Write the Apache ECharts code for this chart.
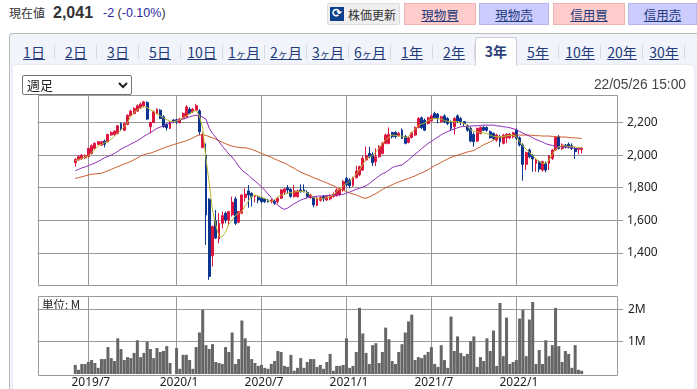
<!DOCTYPE html>
<html>
<head>
<meta charset="utf-8">
<script src="https://cdn.jsdelivr.net/npm/echarts@6/dist/echarts.min.js"></script>
<style>
html, body { margin:0; padding:0; width:697px; height:389px; overflow:hidden; background:#fff; color:#333;
  font-family:"Liberation Sans","Noto Sans CJK JP",sans-serif; }
.abs { position:absolute; white-space:nowrap; }
#panel { position:absolute; left:9px; top:33px; width:692px; height:380px; background:#f1f4fb; border:1px solid #bbb; border-radius:3px; box-sizing:border-box; }
#inner { position:absolute; left:13px; top:65px; width:681px; height:340px; background:#fff; border-radius:3px 3px 0 0; box-shadow:0 0 2px #ccd4e6; }
#chart { position:absolute; left:0; top:0; width:697px; height:389px; }
.btn { position:absolute; top:3px; height:22px; text-align:center; font:12.5px/21px "Noto Sans CJK JP",sans-serif; color:#223a7a; text-decoration:underline; box-sizing:border-box; }
.buy { background:#ffcccc; border:1px solid #eeb4b4; }
.sell { background:#ccccff; border:1px solid #b4b8ea; }
.tab { position:absolute; top:39px; width:42px; height:24px; text-align:center; font:14px/26px "Noto Sans CJK JP",sans-serif; color:#223a7a; text-decoration:underline; }
.tab small { font-size:10px; }
.tab.sep { border-right:1px solid #d5d9e2; height:14px; width:0; top:45px; text-decoration:none; }
#active { position:absolute; left:475px; top:37px; width:42px; height:29px; background:#fff; border:1px solid #ccd; border-bottom:none; border-radius:3px 3px 0 0; box-sizing:border-box; text-align:center; font:bold 14px/27px "Noto Sans CJK JP",sans-serif; color:#2d3e78; }
select { position:absolute; left:22px; top:75px; width:110px; height:20px; font:13px "Liberation Sans","Noto Sans CJK JP",sans-serif; padding:0 0 0 0; border:1px solid #777; border-radius:2px; background:#fff; color:#222; z-index:5; }
</style>
</head>
<body>
<div class="abs" style="left:9px;top:3px;font:12px/20px 'Noto Sans CJK JP',sans-serif;">現在値</div>
<div class="abs" style="left:53px;top:2px;font:bold 16px/22px 'Liberation Sans',sans-serif;">2,041</div>
<div class="abs" style="left:103px;top:3px;font:12.5px/20px 'Liberation Sans',sans-serif;"><span style="color:#2a2aa0">-2</span> (<span style="color:#2a2aa0">-0.10%</span>)</div>

<div class="btn" style="left:327px;width:73px;background:#eee;border:1px solid #ddd;border-radius:2px;color:#333;text-decoration:none;padding-left:17px;font-size:12px;">株価更新</div>
<div class="abs" style="left:330px;top:7px;width:14px;height:14px;background:#0c3f8c;color:#fff;font:bold 12px/13px 'DejaVu Sans';text-align:center;">⟳</div>
<div class="btn buy" style="left:404px;width:72px;">現物買</div>
<div class="btn sell" style="left:479px;width:70px;">現物売</div>
<div class="btn buy" style="left:553px;width:72px;">信用買</div>
<div class="btn sell" style="left:628px;width:69px;">信用売</div>

<div id="panel"></div>
<div id="tabs"></div>
<div id="inner"></div>
<div id="active">3年</div>
<div id="chart"></div>
<select><option>週足</option></select>
<div class="abs" style="right:11px;top:76px;font:13.8px/18px 'Liberation Sans',sans-serif;color:#444;">22/05/26 15:00</div>

<script>
// weekly bars, first one is the week of 2019/6/3
var startWeek = new Date(2019, 5, 3);
var tickWeeks = [4, 31, 57, 83, 109, 135];   // bar index of the 2019/7, 2020/1 ... labels
var priceTicks = [1400, 1600, 1800, 2000, 2200];
var volumeTicks = [1, 2];
var tabNames = ['1日','2日','3日','5日','10日','1<small>ヶ</small>月','2<small>ヶ</small>月','3<small>ヶ</small>月','6<small>ヶ</small>月','1年','2年','','5年','10年','20年','30年'];

var open = [
1953,1970,1976,1984,1990,2010,2041,2066,2062,2086,
2082,2123,2127,2133,2194,2153,2188,2241,2256,2270,
2290,2303,2323,2174,2200,2256,2276,2235,2188,2164,
2215,2217,2200,2225,2235,2282,2266,2276,2272,2047,
2000,1729,1381,1596,1485,1581,1643,1602,1633,1731,
1588,1643,1739,1780,1765,1745,1741,1735,1731,1724,
1714,1718,1714,1735,1771,1800,1790,1745,1745,1786,
1786,1771,1739,1739,1690,1722,1745,1724,1731,1745,
1751,1755,1786,1857,1847,1812,1861,1878,1908,1970,
2010,2004,1959,1990,2010,2072,2072,2139,2139,2119,
2153,2113,2078,2108,2123,2170,2229,2215,2194,2211,
2256,2252,2205,2241,2225,2205,2174,2241,2225,2205,
2180,2164,2127,2086,2133,2170,2170,2143,2133,2092,
2113,2072,2106,2106,2113,2153,2106,2062,1943,2031,
1996,1949,1959,1908,1949,1949,1980,2031,2113,2041,
2062,2066,2057,2041,2035,2033];
var close = [
1974,1990,2000,1996,2041,2057,2072,2082,2082,2066,
2127,2139,2147,2180,2164,2194,2245,2270,2286,2303,
2313,2327,2221,2200,2266,2282,2225,2174,2168,2200,
2205,2205,2221,2256,2296,2256,2282,2303,2143,2127,
1632,1255,1561,1490,1581,1628,1602,1653,1710,1581,
1653,1755,1761,1755,1745,1751,1724,1714,1714,1714,
1722,1704,1735,1786,1792,1786,1745,1780,1780,1775,
1775,1745,1755,1694,1735,1739,1731,1745,1751,1759,
1786,1792,1837,1816,1812,1861,1902,1929,1980,1996,
1990,1953,1990,2051,2072,2123,2127,2113,2113,2133,
2102,2072,2106,2137,2170,2225,2168,2153,2229,2241,
2229,2229,2235,2205,2194,2164,2225,2209,2205,2194,
2153,2086,2082,2164,2170,2153,2153,2106,2102,2123,
2082,2123,2127,2129,2137,2102,2062,1943,2015,1990,
1976,1970,1914,1959,1908,1994,2031,2109,2041,2062,
2051,2051,2041,2021,2043,2041];
var low = [
1929,1966,1972,1976,1986,2004,2031,2062,2055,2047,
2076,2119,2119,2127,2147,2147,2184,2233,2250,2266,
2286,2294,2215,2133,2196,2250,2221,2168,2151,2160,
2196,2190,2194,2221,2229,2250,2258,2272,2123,2041,
1449,1234,1316,1485,1459,1551,1581,1571,1622,1571,
1581,1637,1714,1677,1684,1710,1704,1704,1706,1708,
1704,1694,1702,1731,1755,1765,1739,1739,1739,1769,
1771,1739,1731,1680,1686,1714,1714,1718,1722,1739,
1745,1751,1775,1806,1796,1806,1857,1870,1902,1963,
1980,1933,1933,1984,2004,2066,2066,2102,2102,2113,
2098,2066,2072,2102,2117,2164,2160,2147,2188,2205,
2221,2194,2198,2196,2184,2153,2127,2196,2184,2180,
2143,2078,2051,2082,2127,2147,2143,2102,2092,2082,
2051,2066,2072,2098,2102,2094,2053,1843,1908,1980,
1898,1898,1894,1898,1894,1908,1970,2025,2035,2031,
2041,2041,2031,1976,2004,2010];
var high = [
1980,2000,2006,2004,2045,2066,2078,2086,2088,2096,
2131,2147,2153,2184,2200,2200,2250,2278,2294,2311,
2323,2333,2331,2205,2274,2286,2282,2245,2196,2209,
2221,2223,2229,2262,2307,2294,2290,2315,2282,2139,
2072,1735,1567,1663,1643,1653,1653,1657,1745,1745,
1657,1759,1796,1816,1771,1755,1749,1741,1735,1731,
1731,1726,1743,1790,1800,1816,1796,1816,1788,1820,
1820,1784,1763,1747,1743,1747,1755,1755,1759,1771,
1796,1800,1847,1867,1857,1867,1935,1935,1996,2051,
2051,2017,2041,2062,2082,2133,2170,2143,2147,2143,
2164,2123,2115,2143,2176,2233,2237,2225,2235,2250,
2266,2258,2241,2250,2233,2213,2233,2250,2233,2209,
2188,2174,2139,2168,2176,2180,2176,2151,2139,2131,
2123,2131,2135,2135,2143,2164,2115,2072,2021,2041,
2004,1980,1968,1966,1959,2000,2037,2115,2123,2072,
2068,2078,2072,2051,2047,2051];

var maShort = [
1966,1972,1980,1988,1994,2015,2035,2057,2066,2076,
2082,2098,2115,2137,2153,2174,2200,2241,2262,2278,
2290,2296,2292,2278,2266,2254,2241,2229,2217,2209,
2205,2209,2217,2229,2241,2254,2266,2274,2241,2164,
1980,1827,1663,1571,1500,1498,1526,1575,1602,1628,
1643,1653,1690,1718,1747,1755,1749,1743,1733,1722,
1714,1726,1743,1755,1759,1765,1769,1773,1776,1778,
1776,1769,1753,1739,1733,1731,1733,1739,1745,1755,
1776,1792,1812,1825,1841,1861,1882,1908,1943,1976,
1990,1996,2021,2041,2072,2092,2111,2123,2121,2117,
2117,2109,2113,2139,2160,2180,2190,2198,2213,2221,
2225,2223,2221,2213,2207,2205,2205,2205,2200,2194,
2180,2153,2147,2143,2139,2137,2131,2123,2115,2113,
2113,2115,2119,2121,2123,2113,2082,2057,2037,2017,
1996,1976,1959,1949,1947,1970,2004,2035,2051,2057,
2057,2053,2051,2049,2045,2045];
var maMid = [
1904,1912,1921,1927,1935,1943,1951,1961,1972,1984,
1992,2000,2010,2023,2037,2047,2057,2068,2078,2088,
2100,2115,2127,2139,2151,2164,2172,2180,2190,2196,
2203,2211,2215,2221,2227,2235,2241,2245,2243,2233,
2221,2164,2133,2109,2082,2055,2031,2006,1988,1961,
1933,1908,1892,1876,1857,1841,1823,1806,1784,1761,
1739,1712,1692,1677,1667,1675,1688,1702,1712,1724,
1731,1737,1743,1745,1747,1749,1749,1751,1753,1753,
1755,1757,1759,1767,1773,1782,1790,1796,1804,1812,
1825,1841,1857,1872,1886,1894,1908,1923,1931,1935,
1939,1955,1970,1988,2006,2021,2039,2055,2072,2084,
2098,2111,2125,2135,2145,2153,2160,2168,2174,2176,
2176,2178,2180,2180,2182,2184,2184,2184,2184,2180,
2178,2174,2172,2168,2162,2156,2145,2135,2125,2117,
2106,2096,2088,2080,2070,2064,2059,2053,2051,2051,
2049,2047,2045,2041,2039,2037];
var maLong = [
1857,1861,1867,1872,1878,1882,1884,1886,1888,1896,
1904,1912,1921,1929,1937,1945,1953,1961,1972,1982,
1994,2002,2008,2012,2019,2027,2035,2043,2051,2057,
2064,2070,2076,2082,2088,2096,2106,2117,2123,2125,
2121,2113,2106,2098,2088,2078,2070,2062,2055,2051,
2047,2045,2045,2041,2035,2027,2019,2010,2002,1994,
1986,1976,1968,1959,1951,1941,1929,1919,1906,1896,
1886,1878,1870,1861,1853,1845,1837,1829,1820,1812,
1802,1792,1784,1776,1767,1761,1755,1747,1737,1735,
1743,1753,1763,1776,1788,1800,1808,1818,1827,1835,
1843,1849,1857,1865,1872,1882,1890,1900,1910,1923,
1935,1945,1955,1966,1976,1986,1992,2000,2006,2012,
2019,2023,2029,2041,2051,2064,2072,2082,2092,2102,
2109,2113,2117,2119,2121,2123,2123,2123,2123,2123,
2121,2119,2119,2117,2117,2117,2115,2113,2113,2111,
2111,2109,2106,2106,2104,2102];
var volume = [
.28,.13,.31,.31,.37,.43,.34,.19,.46,.46,
.83,.49,.40,1.10,.77,.43,.52,.49,.65,1.04,
.52,.65,1.0,.77,.49,.80,.68,.71,.86,.34,
0,.80,.16,.59,.59,.43,.16,.83,1.28,1.98,
.89,.77,.92,.37,.34,.31,.83,.68,1.28,.31,
.46,1.65,1.10,.86,.46,.34,.25,.28,.19,.16,
.31,.40,.71,.68,.25,.22,.59,.10,.19,.49,
.19,.37,.46,.46,.22,.28,.16,.37,.62,.10,
.25,.25,.28,1.10,.19,.25,.68,2.04,1.25,.65,
.31,.89,.95,.34,.68,1.43,1.07,.40,.31,.68,
.92,1.28,1.62,1.83,.43,.52,.49,.59,.68,.83,
.31,.22,.89,.43,.19,1.77,.71,1.16,.65,.55,
.62,1.01,1.16,.22,.52,.40,1.10,.71,1.34,.25,
2.19,.55,1.74,.31,.37,.43,1.71,1.98,.55,1.68,
2.22,.31,.74,.31,1.04,.55,.89,2.04,.86,.37,
.71,.62,.19,.89,.13,.10];

// tabs
var tabsEl = document.getElementById('tabs');
tabNames.forEach(function (t, i) {
    var x = 13 + i * 42;
    if (t) {
        var d = document.createElement('div');
        d.className = 'tab';
        d.style.left = x + 'px';
        d.innerHTML = t;
        tabsEl.appendChild(d);
    }
    if (i != 11) {
        var s = document.createElement('div');
        s.className = 'tab sep';
        s.style.left = (x + 41) + 'px';
        tabsEl.appendChild(s);
    }
});

// empty weeks left and right of the bars, the site leaves that room in the plot
var padLeft = 11, padRight = 10;
var blank = function (n) { var a = []; for (var i = 0; i < n; i++) a.push(''); return a; };
var weeks = [];
open.forEach(function (v, i) {
    var d = new Date(startWeek.getTime() + i * 7 * 86400000 + 3600000);
    weeks.push(d.getFullYear() + '/' + (d.getMonth() + 1));
});
var categories = blank(padLeft).concat(weeks, blank(padRight));
var pad = function (arr) {
    return new Array(padLeft).fill('-').concat(arr, new Array(padRight).fill('-'));
};
var candleData = new Array(padLeft).fill(['-', '-', '-', '-']).concat(open.map(function (v, i) {
    return [v, close[i], low[i], high[i]];
}));
var tickIdx = tickWeeks.map(function (w) { return w + padLeft; });

var gray = '#999';
var labelFont = { fontFamily: 'Noto Sans', fontSize: 12, color: '#222' };
var frame = function (y, h) {
    return { type: 'rect', shape: { x: 38.5, y: y, width: 579, height: h }, style: { fill: 'none', stroke: gray, lineWidth: 1 } };
};

var chart = echarts.init(document.getElementById('chart'), null, { renderer: 'canvas' });
chart.setOption({
    animation: false,
    backgroundColor: 'transparent',
    grid: [
        { left: 37.7, top: 95.5, width: 578.3, height: 190 },
        { left: 37.7, top: 296.5, width: 578.3, height: 79 }
    ],
    xAxis: [0, 1].map(function (g) {
        return {
            type: 'category', gridIndex: g, data: categories,
            axisLine: { show: false },
            axisTick: { show: false, customValues: tickIdx },
            splitLine: { show: true, alignWithLabel: true, lineStyle: { color: gray, width: 1 } },
            axisLabel: g == 1 ? Object.assign({ show: true, margin: 3, padding: [0, 0, 0, 5], customValues: tickIdx, hideOverlap: false }, labelFont) : { show: false }
        };
    }),
    yAxis: [
        {
            type: 'value', gridIndex: 0, position: 'right', min: 1199, max: 2366, scale: true,
            axisLine: { show: false },
            axisTick: { show: true, length: 7, lineStyle: { color: gray }, customValues: priceTicks },
            splitLine: { show: true, lineStyle: { color: gray, width: 1 } },
            axisLabel: Object.assign({ show: true, margin: 11, customValues: priceTicks, formatter: function (v) { return echarts.format.addCommas(v); } }, labelFont)
        },
        {
            type: 'value', gridIndex: 1, position: 'right', min: 0, max: 2.39,
            axisLine: { show: false },
            axisTick: { show: true, length: 7, lineStyle: { color: gray }, customValues: volumeTicks },
            splitLine: { show: true, lineStyle: { color: gray, width: 1 } },
            axisLabel: Object.assign({ show: true, margin: 12, customValues: volumeTicks, formatter: '{value}M' }, labelFont)
        }
    ],
    graphic: [
        frame(95.5, 190),
        frame(296.5, 79),
        { type: 'text', left: 42, top: 299, style: { text: '単位: M', font: '11.5px "Noto Sans CJK JP"', fill: '#222' } }
    ],
    series: [
        {
            type: 'candlestick', xAxisIndex: 0, yAxisIndex: 0, data: candleData, barWidth: 2.4,
            itemStyle: { color: '#dc1440', color0: '#0b3590', borderColor: '#dc1440', borderColor0: '#0b3590', borderWidth: 1 }
        },
        { type: 'line', xAxisIndex: 0, yAxisIndex: 0, data: pad(maLong), showSymbol: false, lineStyle: { color: '#cc5a2a', width: 1 } },
        { type: 'line', xAxisIndex: 0, yAxisIndex: 0, data: pad(maMid), showSymbol: false, lineStyle: { color: '#8e2bb8', width: 1 } },
        { type: 'line', xAxisIndex: 0, yAxisIndex: 0, data: pad(maShort), showSymbol: false, lineStyle: { color: '#b8b82e', width: 1 } },
        { type: 'bar', xAxisIndex: 1, yAxisIndex: 1, data: pad(volume), barWidth: 3, itemStyle: { color: '#666' } }
    ]
});
</script>
</body>
</html>
